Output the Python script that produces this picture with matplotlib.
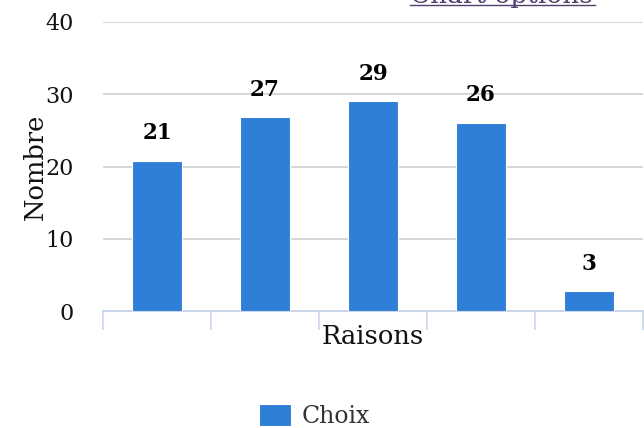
import matplotlib
matplotlib.use("Agg")
import matplotlib.pyplot as plt
from matplotlib.lines import Line2D
import numpy as np

categories = ["", "", "", "", ""]
values = [21, 27, 29, 26, 3]
bar_heights = [20.8, 26.8, 29.0, 26.0, 2.7]
series_name = "Choix"

plt.rcParams["font.family"] = ["DejaVu Serif"]

fig = plt.figure(figsize=(6.44, 4.28), dpi=100)
ax = fig.add_axes([103 / 644, 1 - 311 / 428, 540 / 644, 289 / 428])

x = np.arange(len(values))
bars = ax.bar(x, bar_heights, width=0.47, color="#2f7ed8", edgecolor="white",
              linewidth=0.8, label=series_name, zorder=3)

for xi, h, v in zip(x, bar_heights, values):
    ax.annotate(str(v), (xi, h), xytext=(0, 12), textcoords="offset points",
                ha="center", va="bottom", fontsize=15.5, fontweight="bold",
                color="black")

ax.set_xlim(-0.5, len(values) - 0.5)
ax.set_ylim(0, 40)
ax.set_yticks([0, 10, 20, 30, 40])
ax.yaxis.grid(True, color="#d0d0d0", linewidth=1.2, zorder=0)
ax.set_axisbelow(True)

ax.set_xticks(np.arange(len(values) + 1) - 0.5)
ax.set_xticklabels([""] * (len(values) + 1))
ax.tick_params(axis="x", length=14, width=1.2, color="#ccd6eb")
ax.tick_params(axis="y", length=0, labelsize=16, pad=21, colors="#111111")

for s in ["top", "right", "left"]:
    ax.spines[s].set_visible(False)
ax.spines["bottom"].set_color("#ccd6eb")
ax.spines["bottom"].set_linewidth(1.5)

ax.set_xlabel("Raisons", fontsize=18.5, color="#111111", labelpad=-8)
ax.set_ylabel("Nombre", fontsize=18.5, color="#111111", labelpad=-2)

leg = fig.legend(handles=[bars], labels=[series_name], loc="lower center",
                 bbox_to_anchor=(0.488, -0.05), frameon=False, fontsize=17,
                 handlelength=1.35, handleheight=1.0, handletextpad=0.45)
for t in leg.get_texts():
    t.set_color("#333333")

fig.text(410 / 644, 1 - 2.5 / 428, "Chart options", fontsize=19, color="#4f4070",
         ha="left", va="baseline")
fig.add_artist(Line2D([410 / 644, 595 / 644], [1 - 4.5 / 428, 1 - 4.5 / 428],
                      color="#4f4070", linewidth=1, transform=fig.transFigure))

fig.savefig("out.png", dpi=100)
